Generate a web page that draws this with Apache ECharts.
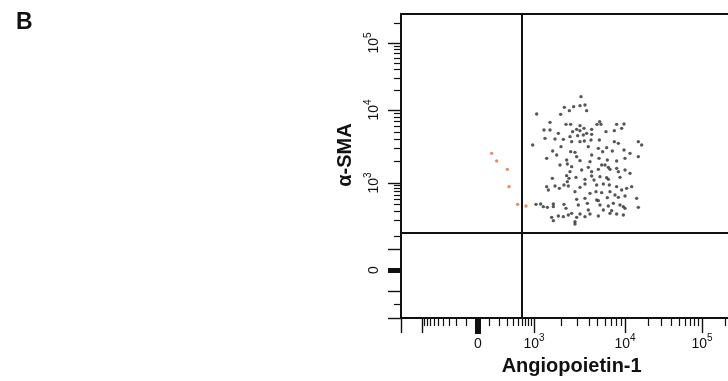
<!DOCTYPE html>
<html>
<head>
<meta charset="utf-8">
<script src="https://cdn.jsdelivr.net/npm/echarts@6/dist/echarts.min.js"></script>
<style>
  html, body { margin: 0; background: #fff; }
  #chart { width: 728px; height: 381px; }
</style>
</head>
<body>
<div id="chart"></div>
<script>
// events in scaled channel units (x: 0-1024, y: 0-912), biexponential display
const posEvents = [
  [540,664],[490,632],[505,622],[518,634],[537,637],[552,639],[557,622],[407,612],[479,611],
  [447,587],[495,581],[509,581],[537,577],[527,566],[549,569],[572,566],[588,581],[596,589],
  [600,581],[647,581],[669,582],[429,564],[447,564],[472,554],[515,559],[537,562],[557,554],
  [615,559],[640,562],[662,569],[432,539],[462,537],[487,536],[507,544],[530,547],[547,549],
  [572,551],[512,529],[537,529],[550,531],[570,534],[595,534],[640,529],[652,524],[712,529],
  [722,519],[395,519],[455,501],[480,514],[509,499],[522,497],[562,514],[592,509],[605,499],
  [617,511],[634,501],[669,504],[687,494],[437,479],[467,489],[497,474],[527,484],[537,472],
  [572,489],[567,469],[594,479],[619,474],[647,471],[672,479],[712,484],[477,459],[499,462],
  [512,454],[542,444],[562,452],[602,459],[612,459],[622,452],[627,446],[592,446],[647,449],
  [652,439],[672,444],[687,434],[572,439],[507,439],[454,419],[497,427],[504,419],[525,422],
  [552,416],[572,426],[579,414],[597,424],[617,421],[622,416],[657,422],[499,409],[437,394],
  [462,396],[475,389],[489,399],[502,396],[537,392],[552,402],[587,399],[607,402],[625,399],
  [647,394],[662,384],[677,389],[692,394],[442,384],[522,379],[567,374],[585,379],[602,376],
  [627,379],[642,369],[672,366],[619,361],[652,362],[527,356],[552,359],[587,354],[707,359],
  [405,341],[419,342],[427,334],[439,332],[457,342],[457,334],[489,341],[495,329],[532,339],
  [559,344],[592,352],[597,339],[622,336],[637,344],[657,339],[667,334],[712,332],[562,324],
  [607,324],[632,322],[672,329],[452,302],[472,306],[487,304],[502,309],[512,314],[527,302],
  [537,312],[552,304],[567,312],[592,306],[627,314],[647,312],[667,309],[522,289],[522,282],
  [457,292]
];
const negEvents = [[272,494],[287,471],[319,446],[324,394],[350,341],[375,336]];

// quadrant gate, channel units
const gateX = 363;
const gateY = 255;

// tick labels (raw intensity) and decade exponents
const labelRaw = [0, 1e3, 1e4, 1e5];
const labelExp = ['', '3', '4', '5'];
const xMinorRaw = [-900,-800,-700,-600,-500,-400,-300,-200,-100,
  100,200,300,400,500,600,700,800,900,
  2e3,3e3,4e3,5e3,6e3,7e3,8e3,9e3,2e4,3e4,4e4,5e4,6e4,7e4,8e4,9e4,2e5];
const yMinorRaw = [-100,100,200,300,400,500,600,700,800,900,
  2e3,3e3,4e3,5e3,6e3,7e3,8e3,9e3,2e4,3e4,4e4,5e4,6e4,7e4,8e4,9e4,2e5];
const xMajorRaw = [-1e3, 1e3, 1e4, 1e5];
const yMajorRaw = [-200, -50, 50, 1e3, 1e4, 1e5];

// display calibration: channel of 0, 1e3, 1e4, 1e5 and linear width
const xCal = { ch: [231, 399, 672, 903], w: 200, max: 1024 };
const yCal = { ch: [144, 405, 624, 825], w: 50, max: 912 };

function makeScale(cal) {
  const d = cal.ch;
  return v => {
    const a = Math.abs(v), s = Math.sign(v);
    let off;
    if (a < 1000) {
      off = (d[1] - d[0]) * Math.asinh(a / cal.w) / Math.asinh(1000 / cal.w);
    } else {
      const e = Math.log10(a) - 3;
      const i = Math.min(Math.floor(e), 1);
      off = d[i + 1] + (e - i) * (d[i + 2] - d[i + 1]) - d[0];
    }
    return d[0] + s * off;
  };
}
const toX = makeScale(xCal);
const toY = makeScale(yCal);

const font = '"Liberation Sans", Arial, sans-serif';
const ink = '#111';

function labelFmt(scale) {
  const chs = labelRaw.map(scale);
  return v => {
    const i = chs.findIndex(c => Math.abs(c - v) < 0.5);
    if (i < 0) return '';
    return labelExp[i] ? '{b|10}{e|' + labelExp[i] + '}' : '{b|0}';
  };
}

function axes(scale, cal, majorRaw, minorRaw, isY) {
  const base = { type: 'value', min: 0, max: cal.max, gridIndex: 0,
    position: isY ? 'left' : 'bottom', offset: 0,
    splitLine: { show: false }, axisLine: { show: false, onZero: false },
    axisLabel: { show: false }, axisTick: { show: false } };
  const len = isY ? 13 : 15;
  return [
    Object.assign({}, base, {
      axisLine: { show: true, onZero: false, lineStyle: { color: ink, width: 2 } },
      axisTick: { show: true, inside: false, length: len, lineStyle: { color: ink, width: 1.4 },
        customValues: [0].concat(majorRaw.map(scale)) },
      axisLabel: {
        show: true, rotate: isY ? 90 : 0, margin: isY ? 16 : 15,
        color: ink, fontFamily: font,
        customValues: labelRaw.map(scale),
        formatter: labelFmt(scale),
        rich: {
          b: { fontSize: 14, lineHeight: 22, fontFamily: font, color: ink },
          e: { fontSize: 10, lineHeight: 8, verticalAlign: 'top', fontFamily: font, color: ink }
        }
      },
      name: isY ? 'α-SMA' : 'Angiopoietin-1',
      nameLocation: 'middle',
      nameGap: isY ? 46 : 38,
      nameTextStyle: { fontSize: 20, fontWeight: 'bold', color: ink, fontFamily: font,
        padding: isY ? [0, 0, 0, 22] : 0 }
    }),
    Object.assign({}, base, {
      axisTick: { show: true, inside: false, length: isY ? 7 : 8, lineStyle: { color: ink, width: 1.2 },
        customValues: minorRaw.map(scale) }
    }),
    Object.assign({}, base, {
      axisTick: { show: true, inside: false, length: isY ? 13 : 16,
        lineStyle: { color: ink, width: isY ? 5 : 6 },
        customValues: [scale(0)] }
    })
  ];
}

const chart = echarts.init(document.getElementById('chart'));
chart.setOption({
  animation: false,
  backgroundColor: '#fff',
  title: {
    text: 'B', left: 11, top: 6,
    textStyle: { fontSize: 23, fontWeight: 'bold', color: ink, fontFamily: font }
  },
  grid: {
    left: 401, top: 14, width: xCal.max / 3, height: yCal.max / 3,
    show: true, borderColor: ink, borderWidth: 2, backgroundColor: 'transparent',
    outerBoundsMode: 'none'
  },
  xAxis: axes(toX, xCal, xMajorRaw, xMinorRaw, false),
  yAxis: axes(toY, yCal, yMajorRaw, yMinorRaw, true),
  series: [
    {
      type: 'scatter', name: 'gated', data: posEvents,
      symbolSize: 3.4, itemStyle: { color: '#3a3a3a', opacity: 0.85 },
      markLine: {
        silent: true, symbol: 'none', animation: false,
        label: { show: false },
        lineStyle: { color: ink, width: 2, type: 'solid' },
        data: [{ xAxis: gateX }, { yAxis: gateY }]
      }
    },
    {
      type: 'scatter', name: 'low', data: negEvents,
      symbolSize: 3.4, itemStyle: { color: '#e9814d', opacity: 0.9 }
    }
  ]
});
</script>
</body>
</html>
